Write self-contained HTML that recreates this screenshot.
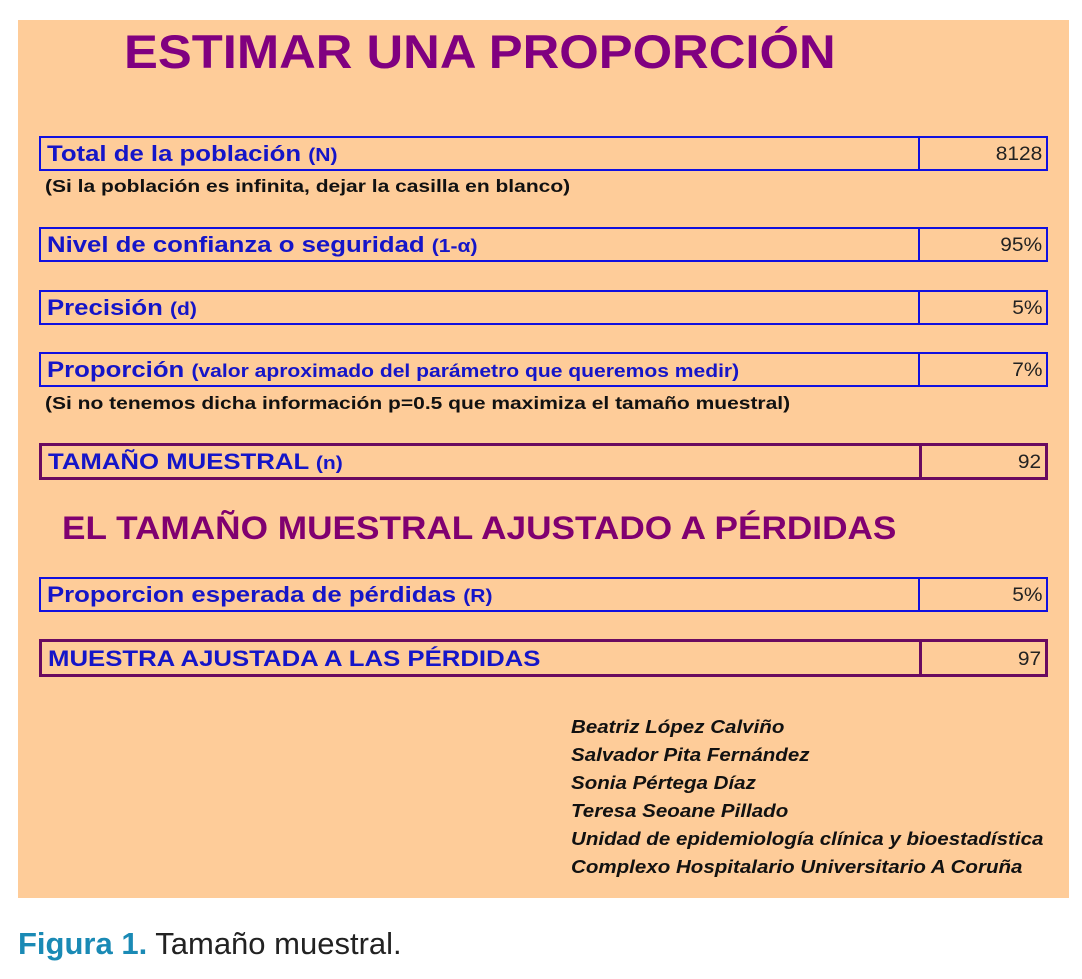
<!DOCTYPE html>
<html><head><meta charset="utf-8"><style>
body{margin:0;width:1082px;height:979px;background:#fff;position:relative;font-family:"Liberation Sans",Arial,sans-serif;overflow:hidden}
.p{position:absolute;left:18px;top:20px;width:1051px;height:878px;background:#FECC99}
.a{position:absolute;white-space:nowrap;transform-origin:0 0}
.box{position:absolute;left:39px;width:1009px;border:2px solid #1010e0;box-sizing:border-box}
.box .d{position:absolute;left:877px;top:-2px;bottom:-2px;border-left:2px solid #1010e0}
.box .l{position:absolute;left:6px;bottom:2px;color:#1515c8;font-weight:bold;font-size:22px;white-space:nowrap;transform:scaleX(1.17);transform-origin:0 100%}
.box .l small{font-size:18px}
.box .v{position:absolute;right:4px;bottom:3px;font-size:19px;color:#222;transform:scaleX(1.1);transform-origin:100% 100%}
.pu{border:3px solid #6a0a60}
.pu .d{border-left:3px solid #6a0a60;top:-3px;bottom:-3px}
.note{color:#111;font-weight:bold;font-size:17.5px;transform:scaleX(1.2)}
.au{left:571px;font-style:italic;font-weight:bold;font-size:18.5px;color:#111;transform:scaleX(1.11)}
</style></head><body>
<div class="p"></div>
<div class="a" style="left:124px;top:24px;font-size:47px;font-weight:bold;color:#800080;transform:scaleX(1.08)">ESTIMAR UNA PROPORCIÓN</div>
<div class="box" style="top:136px;height:35px"><div class="d"></div><div class="l">Total de la población <small>(N)</small></div><div class="v">8128</div></div>
<div class="a note" style="left:45px;top:176px">(Si la población es infinita, dejar la casilla en blanco)</div>
<div class="box" style="top:227px;height:35px"><div class="d"></div><div class="l">Nivel de confianza o seguridad <small>(1-α)</small></div><div class="v">95%</div></div>
<div class="box" style="top:290px;height:35px"><div class="d"></div><div class="l">Precisión <small>(d)</small></div><div class="v">5%</div></div>
<div class="box" style="top:352px;height:35px"><div class="d"></div><div class="l">Proporción <small>(valor aproximado del parámetro que queremos medir)</small></div><div class="v">7%</div></div>
<div class="a note" style="left:45px;top:393px">(Si no tenemos dicha información p=0.5 que maximiza el tamaño muestral)</div>
<div class="box pu" style="top:443px;height:37px"><div class="d"></div><div class="l">TAMAÑO MUESTRAL <small>(n)</small></div><div class="v">92</div></div>
<div class="a" style="left:62px;top:510px;font-size:32px;font-weight:bold;color:#800070;transform:scaleX(1.1)">EL TAMAÑO MUESTRAL AJUSTADO A PÉRDIDAS</div>
<div class="box" style="top:577px;height:35px"><div class="d"></div><div class="l">Proporcion esperada de pérdidas <small>(R)</small></div><div class="v">5%</div></div>
<div class="box pu" style="top:639px;height:38px"><div class="d"></div><div class="l">MUESTRA AJUSTADA A LAS PÉRDIDAS</div><div class="v">97</div></div>
<div class="a au" style="top:716px">Beatriz López Calviño</div>
<div class="a au" style="top:744px">Salvador Pita Fernández</div>
<div class="a au" style="top:772px">Sonia Pértega Díaz</div>
<div class="a au" style="top:800px">Teresa Seoane Pillado</div>
<div class="a au" style="top:828px">Unidad de epidemiología clínica y bioestadística</div>
<div class="a au" style="top:856px">Complexo Hospitalario Universitario A Coruña</div>
<div class="a" style="left:18px;top:926px;font-size:31px;color:#222"><b style="color:#1a8ab5">Figura 1.</b> Tamaño muestral.</div>
</body></html>
